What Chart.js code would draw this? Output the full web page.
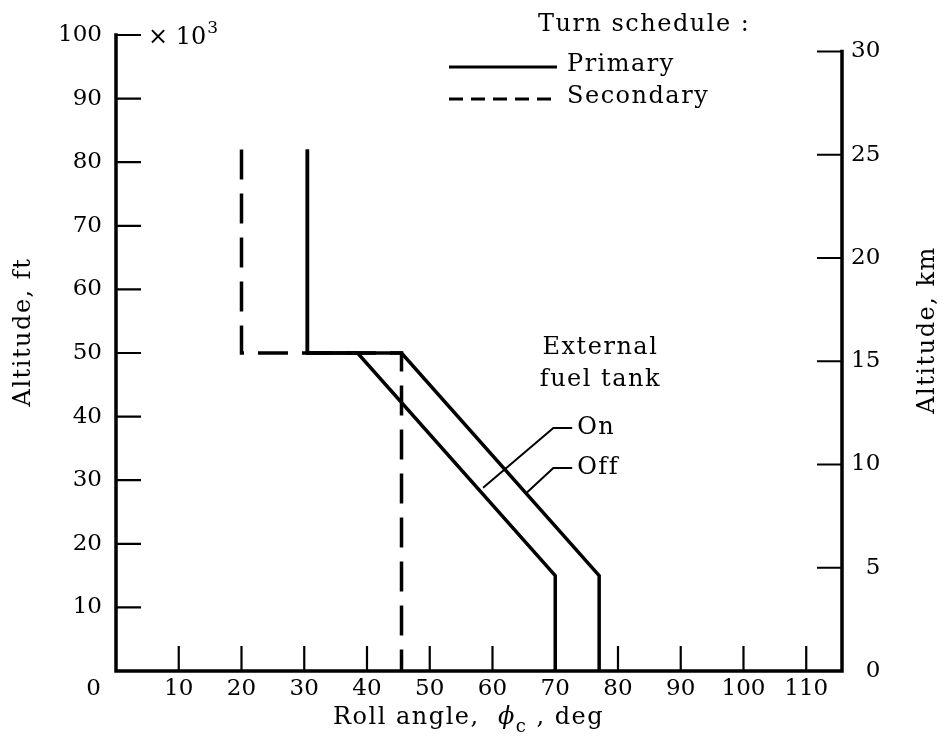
<!DOCTYPE html>
<html>
<head>
<meta charset="utf-8">
<script src="https://cdn.jsdelivr.net/npm/chart.js@4.4.1/dist/chart.umd.min.js"></script>
<style>
  html, body { margin: 0; padding: 0; background: #fff; }
  #wrap { width: 945px; height: 745px; }
</style>
</head>
<body>
<div id="wrap"><canvas id="myChart" width="945" height="745"></canvas></div>
<script>
const FONT = '"DejaVu Serif", serif';
const TICK_SIZE = 23;
const TEXT_SIZE = 24;

// Roll angle (deg) against altitude (thousands of ft) for each turn schedule
const primaryOnRoll = [30.5, 30.5, 38.5, 70, 70];
const primaryOnAlt = [82, 50, 50, 15, 0];
const primaryOffRoll = [30.5, 30.5, 45.5, 77, 77];
const primaryOffAlt = [82, 50, 50, 15, 0];
const secondaryRoll = [20, 20, 45.5, 45.5];
const secondaryAlt = [82, 50, 50, 0];

// Leader lines pointing at the external fuel tank curves
const onLeaderRoll = [58.5, 69.7, 72.7];
const onLeaderAlt = [28.8, 38.2, 38.2];
const offLeaderRoll = [65.4, 69.7, 72.7];
const offLeaderAlt = [28.0, 31.9, 31.9];

// Axis ticks
const rollTicks = [0, 10, 20, 30, 40, 50, 60, 70, 80, 90, 100, 110];
const altFtTicks = [0, 10, 20, 30, 40, 50, 60, 70, 80, 90, 100];
const altKmTicks = [0, 5, 10, 15, 20, 25, 30];

function toPoints(xs, ys) {
  return xs.map((x, i) => ({ x: x, y: ys[i] }));
}

function lineSet(xs, ys, width, dash) {
  return {
    data: toPoints(xs, ys),
    showLine: true,
    borderColor: '#000',
    borderWidth: width,
    borderDash: dash || [],
    borderCapStyle: 'butt',
    borderJoinStyle: 'miter',
    pointRadius: 0,
    fill: false,
    tension: 0,
  };
}

// Ticks point inward and the axis lines stop at their last tick, so both are drawn here
const axisDecor = {
  id: 'axisDecor',
  afterDraw(chart) {
    const { ctx, scales: { x, y, y2 } } = chart;
    const x0 = x.getPixelForValue(0);
    const xEnd = x.getPixelForValue(x.max);
    const yBase = y.getPixelForValue(0);
    const textFont = TEXT_SIZE + 'px ' + FONT;

    ctx.save();
    ctx.strokeStyle = '#000';
    ctx.fillStyle = '#000';
    ctx.lineCap = 'square';

    // axis lines
    ctx.lineWidth = 3.5;
    ctx.beginPath();
    ctx.moveTo(x0, y.getPixelForValue(100));
    ctx.lineTo(x0, yBase);
    ctx.lineTo(xEnd, yBase);
    ctx.lineTo(xEnd, y2.getPixelForValue(30));
    ctx.stroke();

    // inward ticks
    ctx.lineWidth = 2.2;
    ctx.lineCap = 'butt';
    ctx.beginPath();
    rollTicks.filter(v => v > 0).forEach(v => {
      const px = x.getPixelForValue(v);
      ctx.moveTo(px, yBase);
      ctx.lineTo(px, yBase - 25);
    });
    altFtTicks.filter(v => v > 0).forEach(v => {
      const py = y.getPixelForValue(v);
      ctx.moveTo(x0, py);
      ctx.lineTo(x0 + 25, py);
    });
    altKmTicks.filter(v => v > 0).forEach(v => {
      const py = y2.getPixelForValue(v);
      ctx.moveTo(xEnd, py);
      ctx.lineTo(xEnd - 25, py);
    });
    ctx.stroke();

    ctx.textBaseline = 'middle';

    // shared zero in the corner
    ctx.font = TICK_SIZE + 'px ' + FONT;
    ctx.textAlign = 'right';
    ctx.fillText('0', x0 - 15, yBase + 18);

    // x 10^3 multiplier
    ctx.textAlign = 'left';
    ctx.font = textFont;
    const yTop = y.getPixelForValue(100);
    ctx.fillText('\u00d7 10', 148, yTop + 3);
    const w = ctx.measureText('\u00d7 10').width;
    ctx.font = '17px ' + FONT;
    ctx.fillText('3', 148 + w + 1, yTop - 6);

    // legend
    ctx.font = textFont;
    ctx.letterSpacing = '1.5px';
    ctx.fillText('Turn schedule :', 538, 25);
    ctx.fillText('Primary', 567, 65);
    ctx.fillText('Secondary', 567, 97);
    ctx.lineWidth = 3;
    ctx.beginPath();
    ctx.moveTo(449, 67);
    ctx.lineTo(557, 67);
    ctx.stroke();
    ctx.setLineDash([14, 8]);
    ctx.beginPath();
    ctx.moveTo(449, 99);
    ctx.lineTo(557, 99);
    ctx.stroke();
    ctx.setLineDash([]);

    // curve labels
    ctx.textAlign = 'center';
    ctx.fillText('External', x.getPixelForValue(77.2), y.getPixelForValue(50.8));
    ctx.fillText('fuel tank', x.getPixelForValue(77.2), y.getPixelForValue(45.8));
    ctx.textAlign = 'left';
    ctx.fillText('On', x.getPixelForValue(onLeaderRoll[2]) + 5, y.getPixelForValue(onLeaderAlt[2]));
    ctx.fillText('Off', x.getPixelForValue(offLeaderRoll[2]) + 5, y.getPixelForValue(offLeaderAlt[2]));

    // x axis title with subscript
    const titleY = 718;
    let tx = 333;
    const parts = ['Roll angle,  ', '\u03d5', 'c', ' , deg'];
    parts.forEach((p, i) => {
      if (i === 2) {
        ctx.font = '18px ' + FONT;
        ctx.fillText(p, tx, titleY + 9);
      } else {
        ctx.font = (i === 1 ? 'italic ' : '') + textFont;
        ctx.fillText(p, tx, titleY);
      }
      tx += ctx.measureText(p).width;
    });

    // rotated y titles
    ctx.font = textFont;
    ctx.textAlign = 'center';
    [['Altitude, ft', 24, 332], ['Altitude, km', 928, 330]].forEach(([t, cx, cy]) => {
      ctx.save();
      ctx.translate(cx, cy);
      ctx.rotate(-Math.PI / 2);
      ctx.fillText(t, 0, 0);
      ctx.restore();
    });

    ctx.restore();
  }
};

const tickFont = { family: FONT, size: TICK_SIZE };

const ctx = document.getElementById('myChart').getContext('2d');
new Chart(ctx, {
  type: 'scatter',
  data: {
    datasets: [
      lineSet(primaryOnRoll, primaryOnAlt, 3.5),
      lineSet(primaryOffRoll, primaryOffAlt, 3.5),
      lineSet(secondaryRoll, secondaryAlt, 3.5, [30, 14]),
      lineSet(onLeaderRoll, onLeaderAlt, 2),
      lineSet(offLeaderRoll, offLeaderAlt, 2),
    ],
  },
  options: {
    responsive: false,
    animation: false,
    layout: { padding: { top: 35, left: 0, right: 0, bottom: 0 } },
    plugins: {
      legend: { display: false },
      tooltip: { enabled: false },
    },
    scales: {
      x: {
        type: 'linear',
        position: 'bottom',
        min: 0,
        max: 115.7,
        afterBuildTicks: s => { s.ticks = rollTicks.map(v => ({ value: v })); },
        afterFit: s => { s.height = 74; },
        grid: { display: false, drawTicks: false },
        border: { display: false },
        ticks: {
          font: tickFont, color: '#000', padding: 4,
          maxRotation: 0, autoSkip: false,
          callback: v => (v === 0 ? '' : v),
        },
      },
      y: {
        type: 'linear',
        position: 'left',
        min: 0,
        max: 100,
        afterBuildTicks: s => { s.ticks = altFtTicks.map(v => ({ value: v })); },
        afterFit: s => { s.width = 116; },
        grid: { display: false, drawTicks: false },
        border: { display: false },
        ticks: {
          font: tickFont, color: '#000', padding: 14,
          callback: v => (v === 0 ? '' : v),
        },
      },
      y2: {
        type: 'linear',
        position: 'right',
        min: 0,
        max: 30.8,
        afterBuildTicks: s => { s.ticks = altKmTicks.map(v => ({ value: v })); },
        afterFit: s => { s.width = 103; },
        grid: { display: false, drawTicks: false },
        border: { display: false },
        ticks: {
          font: tickFont, color: '#000', padding: 9,
          callback: v => String(v).padStart(2, '\u2007'),
        },
      },
    },
  },
  plugins: [axisDecor],
});
</script>
</body>
</html>
